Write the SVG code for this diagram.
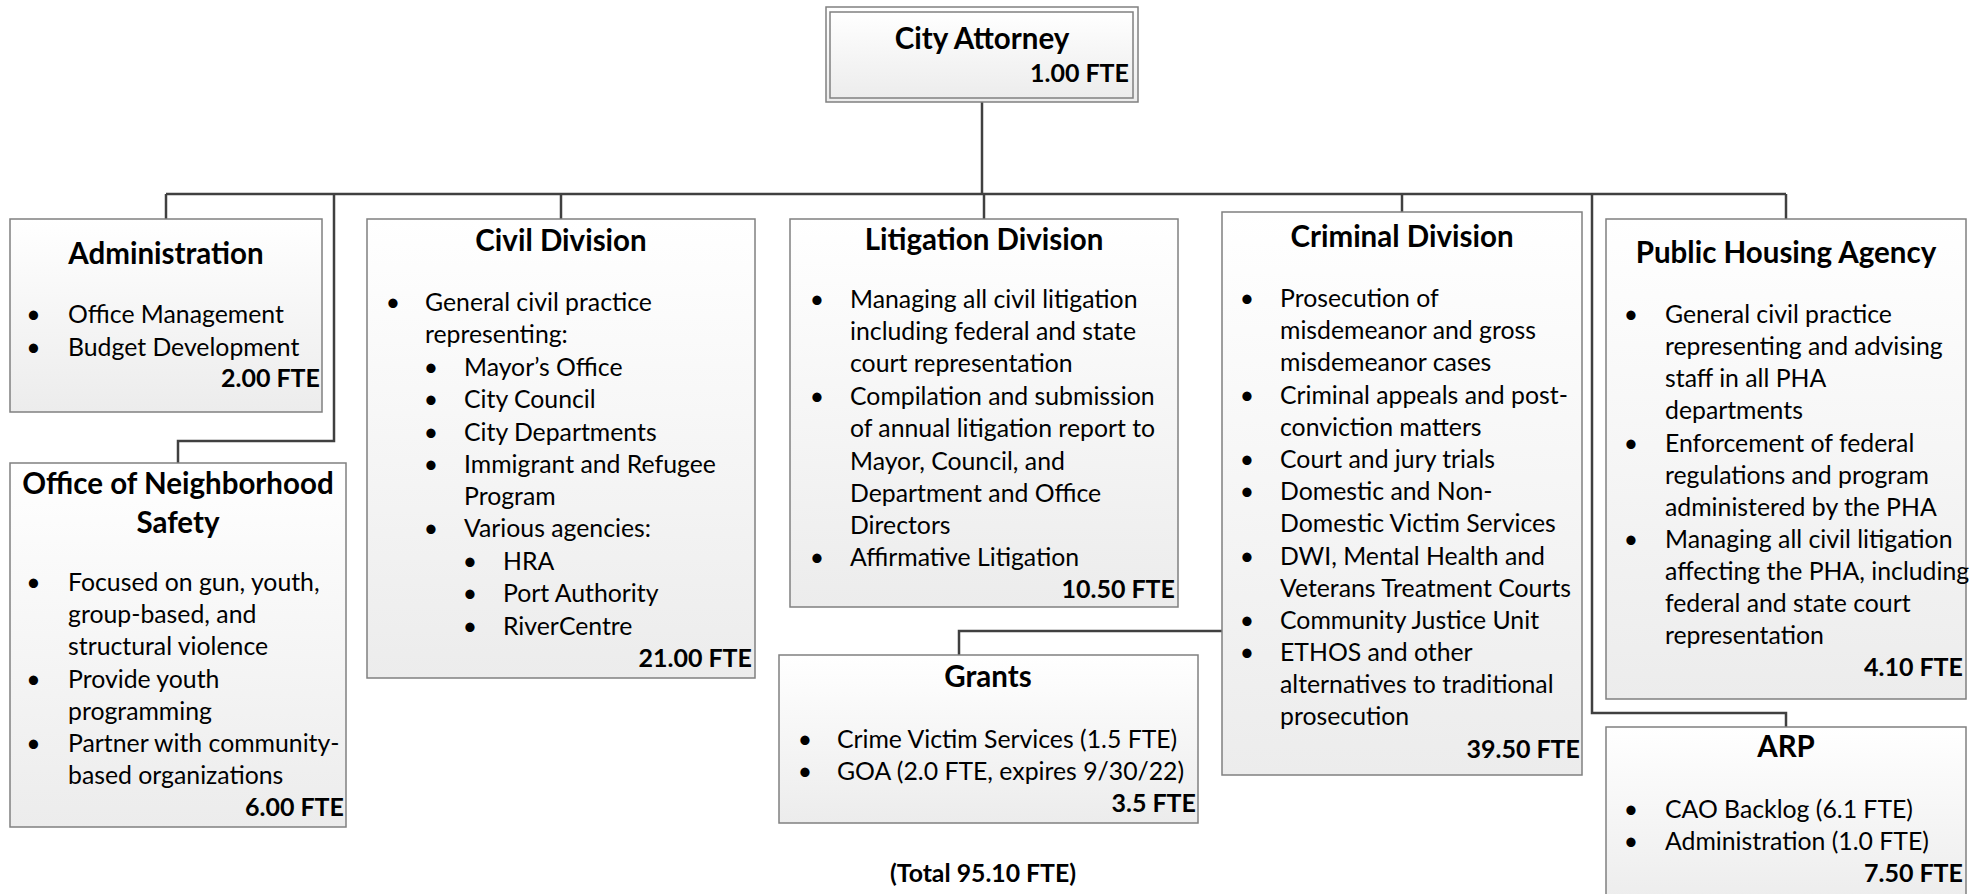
<svg xmlns="http://www.w3.org/2000/svg" width="1982" height="894" viewBox="0 0 1982 894">
<defs>
<linearGradient id="g" x1="0" y1="0" x2="0" y2="1">
<stop offset="0" stop-color="#ffffff"/>
<stop offset="1" stop-color="#ececec"/>
</linearGradient>
<style>
.box{fill:url(#g);stroke:#808080;stroke-width:1.5}
.con{fill:none;stroke:#404040;stroke-width:2.5}
text{font-family:Lato,"Open Sans","Liberation Sans",sans-serif;fill:#000}
.t{font-size:29.5px;font-weight:700;text-anchor:middle}
.b{font-size:24.8px}
.bu{font-size:24.8px;text-anchor:middle}
.f{font-size:25px;font-weight:700;text-anchor:end}
.tot{font-size:24.8px;font-weight:700;text-anchor:middle}
</style>
</defs>
<rect width="1982" height="894" fill="#fff"/>
<g id="connectors">
<path class="con" d="M982,102 V194"/>
<path class="con" d="M166,194 H1786"/>
<path class="con" d="M166,194 V219"/>
<path class="con" d="M334,194 V441 H178 V463"/>
<path class="con" d="M561,194 V219"/>
<path class="con" d="M984,194 V219"/>
<path class="con" d="M1402,194 V212"/>
<path class="con" d="M1592,194 V713 H1786 V727"/>
<path class="con" d="M1786,194 V219"/>
<path class="con" d="M1222,631 H959 V655"/>
</g>
<g id="city-attorney">
<rect class="box" x="826" y="7" width="312" height="95"/>
<rect class="box" x="830" y="12" width="303" height="86"/>
<text class="t" x="982" y="49">City Attorney</text>
<text class="f" x="1129" y="82">1.00 FTE</text>
</g>
<g id="administration">
<rect class="box" x="10" y="219" width="312" height="193"/>
<text class="t" x="166" y="264">Administration</text>
<text class="bu" x="33.5" y="323">•</text><text class="b" x="68" y="323">Office Management</text>
<text class="bu" x="33.5" y="356">•</text><text class="b" x="68" y="356">Budget Development</text>
<text class="f" x="320" y="387">2.00 FTE</text>
</g>
<g id="neighborhood-safety">
<rect class="box" x="10" y="463" width="336" height="364"/>
<text class="t" x="178" y="494">Office of Neighborhood</text>
<text class="t" x="178" y="533">Safety</text>
<text class="bu" x="33.5" y="591">•</text><text class="b" x="68" y="591">Focused on gun, youth,</text>
<text class="b" x="68" y="623">group-based, and</text>
<text class="b" x="68" y="655">structural violence</text>
<text class="bu" x="33.5" y="688">•</text><text class="b" x="68" y="688">Provide youth</text>
<text class="b" x="68" y="720">programming</text>
<text class="bu" x="33.5" y="752">•</text><text class="b" x="68" y="752">Partner with community-</text>
<text class="b" x="68" y="784">based organizations</text>
<text class="f" x="344" y="816">6.00 FTE</text>
</g>
<g id="civil-division">
<rect class="box" x="367" y="219" width="388" height="459"/>
<text class="t" x="561" y="251">Civil Division</text>
<text class="bu" x="393" y="311">•</text><text class="b" x="425" y="311">General civil practice</text>
<text class="b" x="425" y="343">representing:</text>
<text class="bu" x="431" y="376">•</text><text class="b" x="464" y="376">Mayor’s Office</text>
<text class="bu" x="431" y="408">•</text><text class="b" x="464" y="408">City Council</text>
<text class="bu" x="431" y="441">•</text><text class="b" x="464" y="441">City Departments</text>
<text class="bu" x="431" y="473">•</text><text class="b" x="464" y="473">Immigrant and Refugee</text>
<text class="b" x="464" y="505">Program</text>
<text class="bu" x="431" y="537">•</text><text class="b" x="464" y="537">Various agencies:</text>
<text class="bu" x="470" y="570">•</text><text class="b" x="503" y="570">HRA</text>
<text class="bu" x="470" y="602">•</text><text class="b" x="503" y="602">Port Authority</text>
<text class="bu" x="470" y="635">•</text><text class="b" x="503" y="635">RiverCentre</text>
<text class="f" x="752" y="667">21.00 FTE</text>
</g>
<g id="litigation-division">
<rect class="box" x="790" y="219" width="388" height="388"/>
<text class="t" x="984" y="250">Litigation Division</text>
<text class="bu" x="817" y="308">•</text><text class="b" x="850" y="308">Managing all civil litigation</text>
<text class="b" x="850" y="340">including federal and state</text>
<text class="b" x="850" y="372">court representation</text>
<text class="bu" x="817" y="405">•</text><text class="b" x="850" y="405">Compilation and submission</text>
<text class="b" x="850" y="437">of annual litigation report to</text>
<text class="b" x="850" y="470">Mayor, Council, and</text>
<text class="b" x="850" y="502">Department and Office</text>
<text class="b" x="850" y="534">Directors</text>
<text class="bu" x="817" y="566">•</text><text class="b" x="850" y="566">Affirmative Litigation</text>
<text class="f" x="1175" y="598">10.50 FTE</text>
</g>
<g id="grants">
<rect class="box" x="779" y="655" width="419" height="168"/>
<text class="t" x="988" y="687">Grants</text>
<text class="bu" x="805" y="748">•</text><text class="b" x="837" y="748">Crime Victim Services (1.5 FTE)</text>
<text class="bu" x="805" y="780">•</text><text class="b" x="837" y="780">GOA (2.0 FTE, expires 9/30/22)</text>
<text class="f" x="1196" y="812">3.5 FTE</text>
</g>
<g id="criminal-division">
<rect class="box" x="1222" y="212" width="360" height="563"/>
<text class="t" x="1402" y="247">Criminal Division</text>
<text class="bu" x="1247" y="307">•</text><text class="b" x="1280" y="307">Prosecution of</text>
<text class="b" x="1280" y="339">misdemeanor and gross</text>
<text class="b" x="1280" y="371">misdemeanor cases</text>
<text class="bu" x="1247" y="404">•</text><text class="b" x="1280" y="404">Criminal appeals and post-</text>
<text class="b" x="1280" y="436">conviction matters</text>
<text class="bu" x="1247" y="468">•</text><text class="b" x="1280" y="468">Court and jury trials</text>
<text class="bu" x="1247" y="500">•</text><text class="b" x="1280" y="500">Domestic and Non-</text>
<text class="b" x="1280" y="532">Domestic Victim Services</text>
<text class="bu" x="1247" y="565">•</text><text class="b" x="1280" y="565">DWI, Mental Health and</text>
<text class="b" x="1280" y="597">Veterans Treatment Courts</text>
<text class="bu" x="1247" y="629">•</text><text class="b" x="1280" y="629">Community Justice Unit</text>
<text class="bu" x="1247" y="661">•</text><text class="b" x="1280" y="661">ETHOS and other</text>
<text class="b" x="1280" y="693">alternatives to traditional</text>
<text class="b" x="1280" y="725">prosecution</text>
<text class="f" x="1580" y="758">39.50 FTE</text>
</g>
<g id="public-housing-agency">
<rect class="box" x="1606" y="219" width="360" height="480"/>
<text class="t" x="1786" y="263">Public Housing Agency</text>
<text class="bu" x="1631" y="323">•</text><text class="b" x="1665" y="323">General civil practice</text>
<text class="b" x="1665" y="355">representing and advising</text>
<text class="b" x="1665" y="387">staff in all PHA</text>
<text class="b" x="1665" y="419">departments</text>
<text class="bu" x="1631" y="452">•</text><text class="b" x="1665" y="452">Enforcement of federal</text>
<text class="b" x="1665" y="484">regulations and program</text>
<text class="b" x="1665" y="516">administered by the PHA</text>
<text class="bu" x="1631" y="548">•</text><text class="b" x="1665" y="548">Managing all civil litigation</text>
<text class="b" x="1665" y="580">affecting the PHA, including</text>
<text class="b" x="1665" y="612">federal and state court</text>
<text class="b" x="1665" y="644">representation</text>
<text class="f" x="1963" y="676">4.10 FTE</text>
</g>
<g id="arp">
<rect class="box" x="1606" y="727" width="360" height="180"/>
<text class="t" x="1786" y="757">ARP</text>
<text class="bu" x="1631" y="818">•</text><text class="b" x="1665" y="818">CAO Backlog (6.1 FTE)</text>
<text class="bu" x="1631" y="850">•</text><text class="b" x="1665" y="850">Administration (1.0 FTE)</text>
<text class="f" x="1963" y="882">7.50 FTE</text>
</g>
<g id="total">
<text class="tot" x="983" y="882">(Total 95.10 FTE)</text>
</g>
</svg>
